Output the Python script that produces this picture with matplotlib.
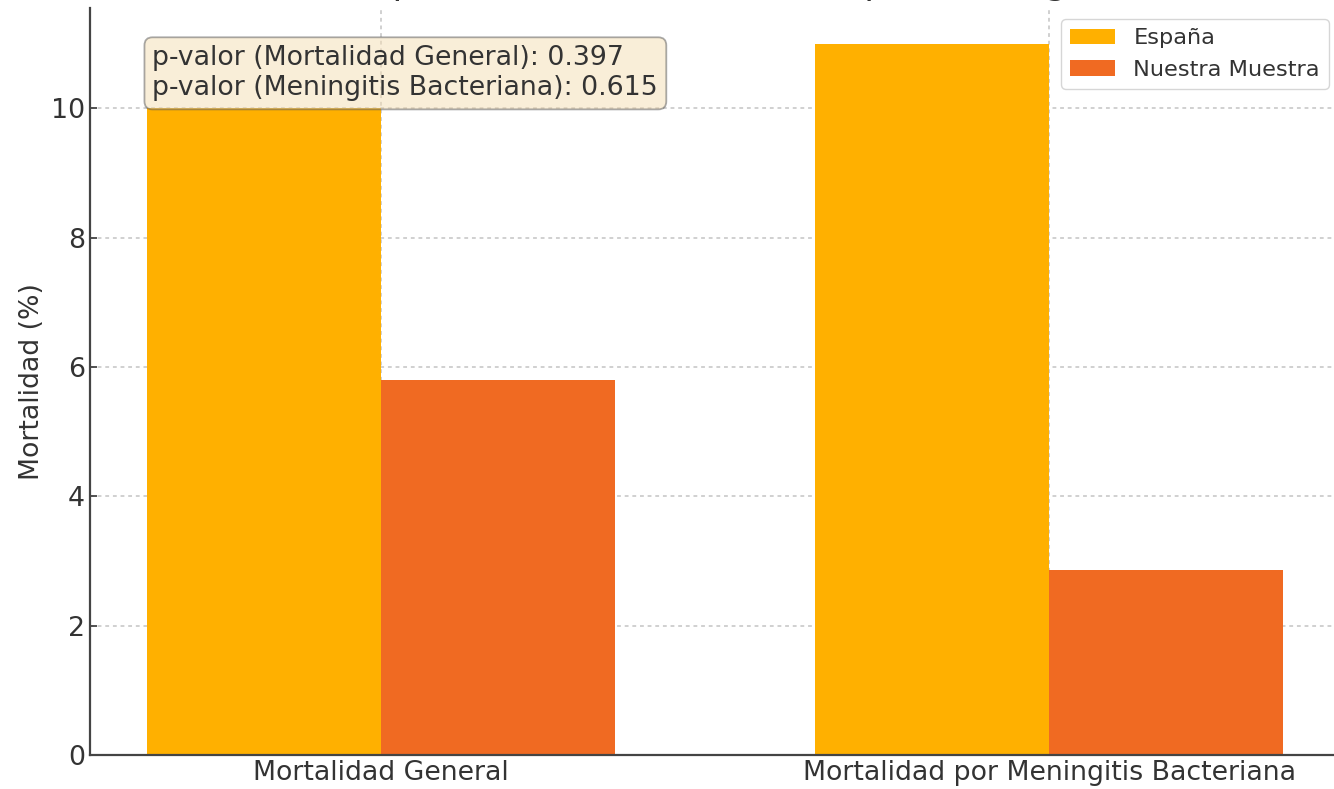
import matplotlib
matplotlib.use("Agg")
import matplotlib.pyplot as plt
import numpy as np

# Data
categories = ["Mortalidad General", "Mortalidad por Meningitis Bacteriana"]
espana = [10.0, 11.0]
nuestra_muestra = [5.8, 2.86]
series_labels = ["España", "Nuestra Muestra"]
p_valores = {"Mortalidad General": 0.397, "Meningitis Bacteriana": 0.615}

colors = ["#FFB000", "#F06A22"]
text_color = "#333333"

fig = plt.figure(figsize=(13.34, 7.89), dpi=100)
ax = fig.add_axes([90 / 1334, 34 / 789, 1250 / 1334, 747 / 789])

x = np.arange(len(categories))
width = 0.35
ax.bar(x - width / 2, espana, width, color=colors[0], label=series_labels[0], zorder=2)
ax.bar(x + width / 2, nuestra_muestra, width, color=colors[1], label=series_labels[1], zorder=2)

ax.set_xticks(x)
ax.set_xticklabels(categories, fontsize=19.3, color=text_color)
ax.set_ylabel("Mortalidad (%)", fontsize=19.3, color=text_color)
ax.set_title("Comparación de la Mortalidad por Meningitis", fontsize=26,
             color=text_color, pad=10)

ax.tick_params(axis="both", direction="in", length=5, width=1.3,
               colors="#444444", labelsize=19.3, labelcolor=text_color)
ax.set_ylim(0, 11.55)
ax.set_xlim(-0.435, 1.435)

for side in ["top", "right"]:
    ax.spines[side].set_visible(False)
for side in ["left", "bottom"]:
    ax.spines[side].set_color("#444444")
    ax.spines[side].set_linewidth(1.6)

ax.grid(True, linestyle=(0, (2.5, 2.5)), color="#C4C4C4", linewidth=1.1, zorder=0)
ax.set_axisbelow(True)

texto = "\n".join(f"p-valor ({k}): {v:.3f}" for k, v in p_valores.items())
ax.text(0.05, 0.95, texto, transform=ax.transAxes, fontsize=19.3, va="top",
        color=text_color,
        bbox=dict(boxstyle="round", facecolor="wheat", alpha=0.5,
                  edgecolor="#555555", linewidth=1.3), zorder=5)

leg = ax.legend(loc="upper right", fontsize=16.2, frameon=True, fancybox=True)
leg.get_frame().set_edgecolor("#CCCCCC")
for t in leg.get_texts():
    t.set_color(text_color)

fig.savefig("out.png", dpi=100)
